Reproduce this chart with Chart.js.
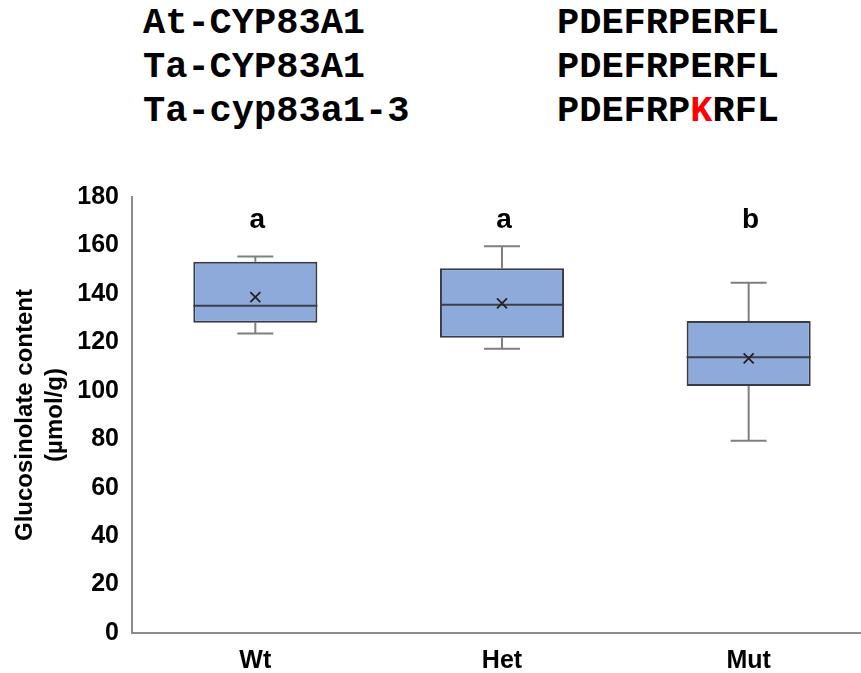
<!DOCTYPE html>
<html>
<head>
<meta charset="utf-8">
<script src="https://cdn.jsdelivr.net/npm/chart.js@4.4.1/dist/chart.umd.min.js"></script>
<style>
    html, body { margin: 0; padding: 0; background: #fff; overflow: hidden; width: 861px; height: 673px; }
    .seq { position: absolute; font: bold 37px "Liberation Mono", "Courier New", monospace; color: #000; line-height: 44px; white-space: pre; }
    #wrap { position: absolute; left: 0; top: 160px; width: 872px; height: 513px; }
</style>
</head>
<body>
<div class="seq" style="left:143px; top:1px;">At-CYP83A1<br>Ta-CYP83A1<br>Ta-cyp83a1-3</div>
<div class="seq" style="left:557px; top:1px;">PDEFRPERFL<br>PDEFRPERFL<br>PDEFRP<span style="color:#ff0000">K</span>RFL</div>
<div id="wrap"><canvas id="grafico-box"></canvas></div>
<script>
// dados
const grupos = ['Wt', 'Het', 'Mut'];
const minimos = [123.6, 117.4, 79.4];
const quartil1 = [128.1, 121.9, 102.0];
const medianas = [135.1, 135.5, 113.8];
const quartil3 = [153.3, 150.6, 128.8];
const maximos = [155.4, 159.7, 144.6];
const medias = [138.7, 136.1, 113.4];
const letras = ['a', 'a', 'b'];
const yTicks = [0, 20, 40, 60, 80, 100, 120, 140, 160, 180];

const fonte = '"Liberation Sans", Arial, sans-serif';

// desenha bigodes, mediana, media e letras usando as escalas do grafico
const boxExtras = {
    id: 'boxExtras',
    afterDatasetsDraw(chart) {
        const ctx = chart.ctx;
        const y = chart.scales.y;
        const meta = chart.getDatasetMeta(0);
        meta.data.forEach(function (bar, i) {
            const x = bar.x;
            const half = bar.width / 2;
            const cap = 18;
            ctx.save();
            // bigodes
            ctx.strokeStyle = '#7f7f7f';
            ctx.lineWidth = 2;
            ctx.beginPath();
            ctx.moveTo(x, y.getPixelForValue(quartil3[i]));
            ctx.lineTo(x, y.getPixelForValue(maximos[i]));
            ctx.moveTo(x - cap, y.getPixelForValue(maximos[i]));
            ctx.lineTo(x + cap, y.getPixelForValue(maximos[i]));
            ctx.moveTo(x, y.getPixelForValue(quartil1[i]));
            ctx.lineTo(x, y.getPixelForValue(minimos[i]));
            ctx.moveTo(x - cap, y.getPixelForValue(minimos[i]));
            ctx.lineTo(x + cap, y.getPixelForValue(minimos[i]));
            ctx.stroke();
            // mediana
            ctx.strokeStyle = '#3a3f4a';
            ctx.beginPath();
            ctx.moveTo(x - half, y.getPixelForValue(medianas[i]));
            ctx.lineTo(x + half, y.getPixelForValue(medianas[i]));
            ctx.stroke();
            // media (x)
            const my = y.getPixelForValue(medias[i]);
            const s = 5;
            ctx.strokeStyle = '#222';
            ctx.lineWidth = 1.8;
            ctx.beginPath();
            ctx.moveTo(x - s, my - s);
            ctx.lineTo(x + s, my + s);
            ctx.moveTo(x + s, my - s);
            ctx.lineTo(x - s, my + s);
            ctx.stroke();
            // letras
            ctx.fillStyle = '#000';
            ctx.font = 'bold 28px ' + fonte;
            ctx.textAlign = 'center';
            ctx.textBaseline = 'middle';
            ctx.fillText(letras[i], x + 2, y.getPixelForValue(170.5));
            ctx.restore();
        });
    }
};

const ctxBox = document.getElementById('grafico-box');
new Chart(ctxBox, {
    type: 'bar',
    data: {
        labels: grupos,
        datasets: [{
            label: '',
            data: grupos.map(function (g, i) { return [quartil1[i], quartil3[i]]; }),
            backgroundColor: '#8eaadb',
            borderColor: '#363b46',
            borderWidth: 2,
            borderSkipped: false,
            barPercentage: 0.503,
            categoryPercentage: 1
        }]
    },
    options: {
        responsive: true,
        maintainAspectRatio: false,
        animation: false,
        layout: {
            padding: { top: 37, bottom: 0, left: 0, right: 0 }
        },
        plugins: {
            legend: { display: false },
            tooltip: { enabled: false }
        },
        scales: {
            x: {
                grid: { display: false, drawTicks: false },
                border: { display: true, color: '#8c8c8c', width: 2 },
                ticks: { color: '#000', font: { family: fonte, size: 25, weight: 'bold' }, padding: 13 },
                afterFit: function (scale) { scale.height = 40; }
            },
            y: {
                min: 0,
                max: 180,
                afterBuildTicks: function (scale) {
                    scale.ticks = yTicks.map(function (v) { return { value: v }; });
                },
                grid: { display: false, drawTicks: false },
                border: { display: true, color: '#8c8c8c', width: 2 },
                ticks: { color: '#000', font: { family: fonte, size: 25, weight: 'bold' }, padding: 13 },
                title: {
                    display: true,
                    text: ['Glucosinolate content', '(µmol/g)'],
                    color: '#000',
                    font: { family: fonte, size: 24, weight: 'bold', lineHeight: 1.25 },
                    padding: { top: 10, bottom: 0 }
                },
                afterFit: function (scale) { scale.width = 132; }
            }
        }
    },
    plugins: [boxExtras]
});
</script>
</body>
</html>
